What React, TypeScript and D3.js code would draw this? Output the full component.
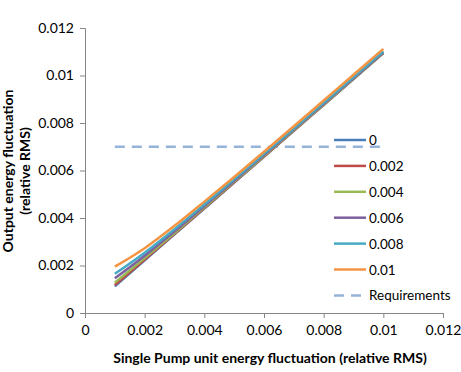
import React, { useEffect, useRef } from 'react';
import * as d3 from 'd3';

const xValues = [0.001, 0.002, 0.003, 0.004, 0.005, 0.006, 0.007, 0.008, 0.009, 0.01];
const seriesNames = ['0', '0.002', '0.004', '0.006', '0.008', '0.01'];
const seriesColors = ['#4A7EBB', '#BE4B48', '#98B954', '#7D60A0', '#46AAC5', '#F59442'];
const s0 = [0.00112, 0.00222, 0.00331, 0.0044, 0.00549, 0.00658, 0.00767, 0.00876, 0.00985, 0.01094];
const s002 = [0.00118, 0.00225, 0.00333, 0.00442, 0.0055, 0.00659, 0.00768, 0.00877, 0.00986, 0.01095];
const s004 = [0.00128, 0.00231, 0.00337, 0.00445, 0.00553, 0.00661, 0.0077, 0.00878, 0.00987, 0.01096];
const s006 = [0.00146, 0.00241, 0.00344, 0.0045, 0.00557, 0.00665, 0.00773, 0.00881, 0.00989, 0.01098];
const s008 = [0.00165, 0.00254, 0.00353, 0.00457, 0.00563, 0.0067, 0.00777, 0.00885, 0.00993, 0.01102];
const s01 = [0.00195, 0.00273, 0.00367, 0.00469, 0.00573, 0.00679, 0.00786, 0.00895, 0.01003, 0.01112];
const requirementX = [0.001, 0.01];
const requirementY = [0.007, 0.007];
const ticks = [0, 0.002, 0.004, 0.006, 0.008, 0.01, 0.012];

const font = 'Lato, "Open Sans", sans-serif';

export default function App() {
  const ref = useRef<SVGSVGElement>(null);

  useEffect(() => {
    const svg = d3.select(ref.current);
    svg.selectAll('*').remove();

    const x = d3.scaleLinear().domain([0, 0.012]).range([85, 443]);
    const y = d3.scaleLinear().domain([0, 0.012]).range([313, 28]);
    const fmt = (d: any) => String(+d.toFixed(3));

    // axes
    const xa = svg.append('g')
      .attr('transform', 'translate(0,313)')
      .call(d3.axisBottom(x).tickValues(ticks).tickSize(5).tickPadding(7).tickFormat(fmt));
    const ya = svg.append('g')
      .attr('transform', 'translate(85,0)')
      .call(d3.axisLeft(y).tickValues(ticks).tickSize(5).tickPadding(6).tickFormat(fmt));
    [xa, ya].forEach(a => {
      a.select('.domain').attr('stroke', '#868686');
      a.selectAll('.tick line').attr('stroke', '#868686');
      a.selectAll('.tick text').attr('fill', '#000').style('font-family', font).style('font-size', '14px');
    });

    const line = d3.line<number>()
      .x((d, i) => x(xValues[i]))
      .y(d => y(d))
      .curve(d3.curveMonotoneX);

    svg.append('path')
      .datum(requirementY)
      .attr('fill', 'none')
      .attr('stroke', '#95B3D7')
      .attr('stroke-width', 2.5)
      .attr('stroke-dasharray', '10,7')
      .attr('d', d3.line<number>().x((d, i) => x(requirementX[i])).y(d => y(d)));

    const all = [s0, s002, s004, s006, s008, s01];
    all.forEach((s, k) => {
      svg.append('path')
        .datum(s)
        .attr('fill', 'none')
        .attr('stroke', seriesColors[k])
        .attr('stroke-width', 2.5)
        .attr('d', line);
    });

    // legend
    const names = [...seriesNames, 'Requirements'];
    const lg = svg.append('g');
    names.forEach((n, i) => {
      const yy = 140 + i * 25.9;
      const isReq = i === 6;
      lg.append('line')
        .attr('x1', 334).attr('x2', 366).attr('y1', yy).attr('y2', yy)
        .attr('stroke', isReq ? '#95B3D7' : seriesColors[i])
        .attr('stroke-width', 2.5)
        .attr('stroke-dasharray', isReq ? '10,7' : null);
      lg.append('text')
        .attr('x', 369).attr('y', yy + 5)
        .style('font-family', font).style('font-size', '13.5px')
        .text(n);
    });

    svg.append('text')
      .attr('x', 270).attr('y', 363)
      .attr('text-anchor', 'middle')
      .style('font-family', font).style('font-size', '14px').style('font-weight', 'bold')
      .text('Single Pump unit energy fluctuation (relative RMS)');

    const yt = svg.append('text')
      .attr('transform', 'translate(0,171) rotate(-90)')
      .attr('text-anchor', 'middle')
      .style('font-family', font).style('font-size', '14px').style('font-weight', 'bold');
    yt.append('tspan').attr('x', 0).attr('y', 13).text('Output energy fluctuation');
    yt.append('tspan').attr('x', 0).attr('y', 30).text('(relative RMS)');
  }, []);

  return (
    <svg ref={ref} width={461} height={372} style={{ display: 'block', position: 'absolute', left: 0, top: 0, background: '#fff' }} />
  );
}
